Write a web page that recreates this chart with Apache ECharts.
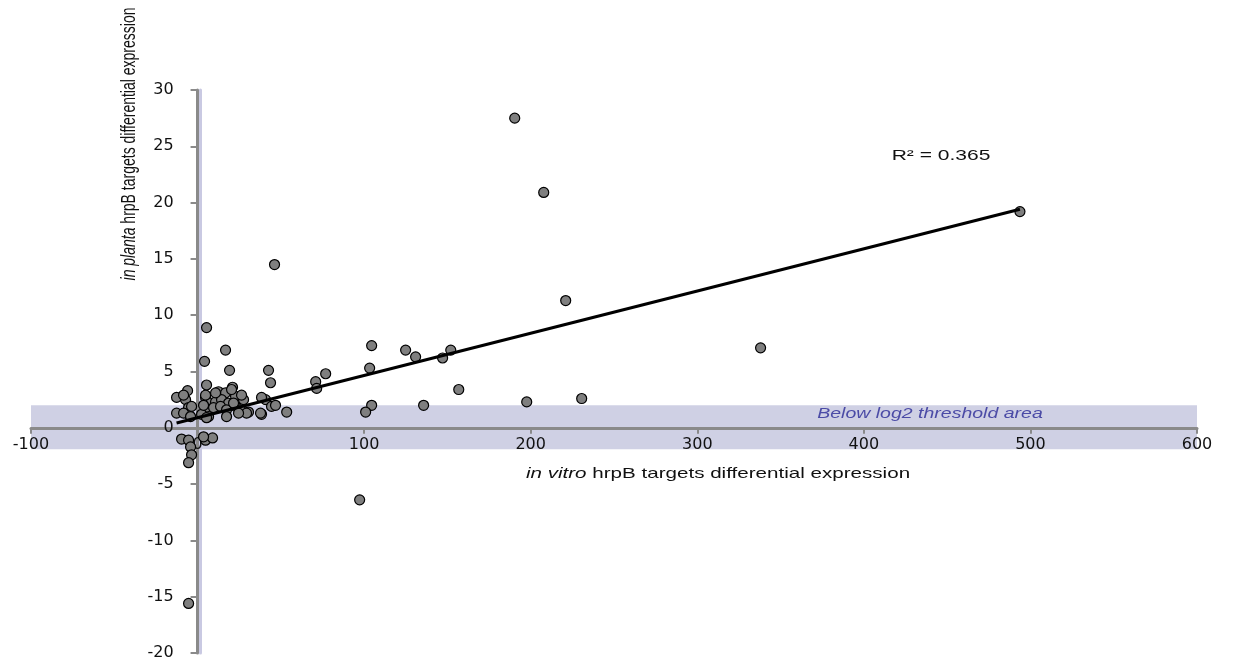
<!DOCTYPE html>
<html>
<head>
<meta charset="utf-8">
<script src="https://cdn.jsdelivr.net/npm/echarts@6/dist/echarts.min.js"></script>
<style>
  html, body { margin: 0; padding: 0; background: #fff; }
  #hrpb { width: 1237px; height: 664px; }
</style>
</head>
<body>
<div id="hrpb"></div>
<script>
// in vitro (x) vs in planta (y) hrpB targets differential expression
const xVitro = [
  190.4, 207.8, 493.7, 46.2, 221, 338, 97.3, -5.4,
  42.6, 43.8, 70.9, 76.9, 71.5, 104.5, 103.3, 124.9, 130.9, 152, 147.1, 156.8,
  197.6, 230.6, 135.7, 104.5, 100.9, 38.4, 30.6, 40.8, 44.4, 46.8, 53.5,
  5.4, 16.8, 4.2, 19.2, 5.4, -6, -12.6, -7.2, 12.6, 21, 16.8, 22.8, 27.6, 4.8,
  7.8, 10.8, 14.4, 18.6, 4.8, 9.6, 13.8, 17.4, 22.8, 25.8, 29.4, 6.6, 17.4,
  24.6, 2.4, -5.4, -12.6, -5.4, -8.4, -3.6, -8.4, -4.2, 4.8, 10.8, 3.6, 5.4,
  20.4, 26.4, 21.6, 38.4, 37.8,
  -9.6, -5.4, -4.2, -3.6, -5.4, 4.8, 9.0, 3.6
];
const yPlanta = [
  27.5, 20.9, 19.2, 14.5, 11.3, 7.1, -6.4, -15.6,
  5.1, 4.0, 4.1, 4.8, 3.5, 7.3, 5.3, 6.9, 6.3, 6.9, 6.2, 3.4,
  2.3, 2.6, 2.0, 2.0, 1.4, 1.2, 1.4, 2.5, 1.9, 2.0, 1.4,
  8.9, 6.9, 5.9, 5.1, 3.8, 3.3, 2.7, 2.5, 3.2, 3.6, 3.1, 2.8, 2.5, 2.7,
  2.2, 2.3, 2.5, 2.2, 1.6, 1.8, 1.9, 1.6, 1.9, 1.6, 1.3, 1.0, 1.0,
  1.3, 1.2, 1.8, 1.3, 1.2, 2.9, 1.9, 1.3, 1.0, 2.9, 3.1, 2.0, 0.9,
  3.4, 2.9, 2.2, 2.7, 1.3,
  -1.0, -1.1, -1.7, -2.4, -3.1, -1.1, -0.9, -0.8
];

// linear trend: [slope, intercept]
const trendCoef = [0.0375, 0.9];
const rSquared = '0.365';
// shaded "below log2 threshold" band on y
const thresholdBand = [-1.9, 2];
const xTicks = [-100, 600, 100];
const yTicks = [-20, 30, 5];

const points = xVitro.map((x, i) => [x, yPlanta[i]]);
const xMin = Math.min(...xVitro), xMax = Math.max(...xVitro);
const trendLine = [xMin, xMax].map(x => [x, trendCoef[0] * x + trendCoef[1]]);

var dom = document.getElementById('hrpb');
var myChart = echarts.init(dom);
var font = 'Arial, "Liberation Sans", sans-serif';
var tickFont = '"DejaVu Sans", Arial, sans-serif';

var gridBox = { left: 31, right: 40, top: 90, bottom: 11 };
// axes cross at (0, 0): shift each whole axis (line, ticks, labels) onto the other's zero
var plotW = 1237 - gridBox.left - gridBox.right;
var plotH = 664 - gridBox.top - gridBox.bottom;
var xAxisOffset = -plotH * (0 - yTicks[0]) / (yTicks[1] - yTicks[0]);
var yAxisOffset = -plotW * (0 - xTicks[0]) / (xTicks[1] - xTicks[0]);

var option = {
  animation: false,
  backgroundColor: '#ffffff',
  grid: Object.assign({ outerBoundsMode: 'none', containLabel: false }, gridBox),
  xAxis: {
    type: 'value',
    min: xTicks[0], max: xTicks[1], interval: xTicks[2],
    offset: xAxisOffset,
    z: 3,
    splitLine: { show: false },
    axisLine: { onZero: false, lineStyle: { color: '#8a8a8a', width: 3 } },
    axisTick: { length: 6, lineStyle: { color: '#8a8a8a', width: 2 } },
    axisLabel: { color: '#111', fontSize: 16, fontFamily: tickFont, margin: 9 }
  },
  yAxis: {
    type: 'value',
    min: yTicks[0], max: yTicks[1], interval: yTicks[2],
    offset: yAxisOffset,
    z: 3,
    splitLine: { show: false },
    axisLine: {
      onZero: false,
      lineStyle: { color: '#8a8a8a', width: 3, shadowColor: '#c9c9e2', shadowOffsetX: 3 }
    },
    axisTick: { length: 7, lineStyle: { color: '#8a8a8a', width: 2 } },
    axisLabel: { color: '#111', fontSize: 16, fontFamily: tickFont, margin: 24 }
  },
  series: [
    {
      type: 'scatter',
      data: points,
      symbol: 'circle',
      symbolSize: 10,
      itemStyle: { color: '#7f7f7f', borderColor: '#000', borderWidth: 1.2, opacity: 1 },
      z: 5,
      markArea: {
        silent: true,
        z: 1,
        itemStyle: { color: '#cfd0e4' },
        data: [[
          { xAxis: xTicks[0], yAxis: thresholdBand[0] },
          { xAxis: xTicks[1], yAxis: thresholdBand[1] }
        ]],
        label: { show: false }
      }
    },
    {
      type: 'line',
      data: trendLine,
      symbol: 'none',
      lineStyle: { color: '#000', width: 3 },
      z: 6
    }
  ],
  graphic: [
    {
      type: 'text', x: 930, y: 414, scaleX: 1.3, z: 10,
      style: {
        text: 'Below log2 threshold area',
        font: 'italic 15px ' + font, fill: '#4b4ba6',
        align: 'center', verticalAlign: 'middle'
      }
    },
    {
      type: 'text', x: 941, y: 156, scaleX: 1.4, z: 10,
      style: {
        text: 'R² = ' + rSquared,
        font: '15px ' + font, fill: '#111',
        align: 'center', verticalAlign: 'middle'
      }
    },
    {
      type: 'text', x: 718, y: 474, scaleX: 1.42, z: 10,
      style: {
        text: '{i|in vitro} hrpB targets differential expression',
        font: '14.5px ' + font, fill: '#111',
        align: 'center', verticalAlign: 'middle',
        rich: { i: { fontStyle: 'italic', fontSize: 14.5, fontFamily: font, fill: '#111' } }
      }
    },
    {
      type: 'text', x: 130, y: 144, rotation: Math.PI / 2, scaleY: 1.4, z: 10,
      style: {
        text: '{i|in planta} hrpB targets differential expression',
        font: '14px ' + font, fill: '#111',
        align: 'center', verticalAlign: 'middle',
        rich: { i: { fontStyle: 'italic', fontSize: 14, fontFamily: font, fill: '#111' } }
      }
    }
  ]
};

myChart.setOption(option);
window.addEventListener('resize', myChart.resize);
</script>
</body>
</html>
